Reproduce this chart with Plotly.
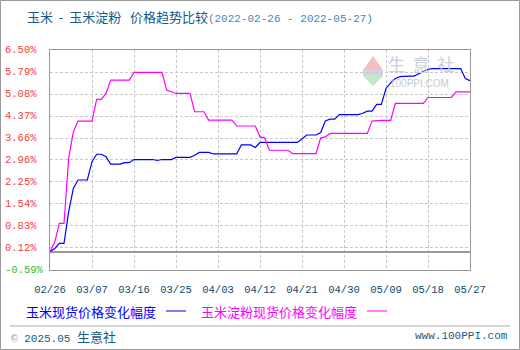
import plotly.graph_objects as go
import pandas as pd

# ---------------- data ----------------
dates = pd.date_range("2022-02-26", "2022-05-27", freq="D")
corn = [0, 0.10, 0.27, 0.27, 1.29, 2.04, 2.31, 2.31, 2.31, 2.90,
        3.14, 3.14, 3.06, 2.82, 2.82, 2.82, 2.87, 2.87, 2.97, 2.97,
        2.97, 2.97, 2.97, 2.94, 2.97, 2.97, 2.97, 3.04, 3.04, 3.04,
        3.04, 3.11, 3.20, 3.20, 3.20, 3.15, 3.15, 3.15, 3.15, 3.15,
        3.15, 3.44, 3.44, 3.44, 3.36, 3.52, 3.52, 3.52, 3.52, 3.52,
        3.52, 3.52, 3.52, 3.52, 3.63, 3.76, 3.76, 3.76, 3.84, 4.21,
        4.27, 4.27, 4.42, 4.42, 4.42, 4.42, 4.42, 4.46, 4.53, 4.53,
        4.75, 4.75, 5.26, 5.44, 5.58, 5.64, 5.66, 5.66, 5.66, 5.73,
        5.82, 5.88, 5.90, 5.90, 5.90, 5.90, 5.90, 5.90, 5.90, 5.58,
        5.51]
starch = [0, 0.30, 0.91, 0.91, 3.01, 3.86, 4.21, 4.21, 4.21, 4.21,
          4.91, 4.91, 5.10, 5.53, 5.53, 5.53, 5.53, 5.53, 5.78, 5.78,
          5.78, 5.78, 5.78, 5.78, 5.78, 5.21, 5.15, 5.10, 5.10, 5.10,
          5.10, 4.51, 4.51, 4.51, 4.24, 4.24, 4.24, 4.24, 4.24, 4.24,
          4.05, 4.05, 4.05, 4.05, 4.05, 3.70, 3.67, 3.27, 3.27, 3.27,
          3.27, 3.27, 3.16, 3.16, 3.16, 3.16, 3.16, 3.16, 3.67, 3.70,
          3.81, 3.81, 3.81, 3.81, 3.81, 3.81, 3.81, 3.81, 3.81, 4.21,
          4.23, 4.23, 4.23, 4.23, 4.78, 4.78, 4.78, 4.78, 4.78, 4.78,
          4.78, 4.97, 4.97, 4.97, 4.97, 4.97, 4.97, 5.15, 5.15, 5.15,
          5.15]
series_names = ["玉米现货价格变化幅度", "玉米淀粉现货价格变化幅度"]
y_ticks = [-0.59, 0.12, 0.83, 1.54, 2.25, 2.96, 3.66, 4.37, 5.08, 5.79, 6.50]
y_tick_labels = ["-0.59%", "0.12%", "0.83%", "1.54%", "2.25%", "2.96%",
                 "3.66%", "4.37%", "5.08%", "5.79%", "6.50%"]
x_ticks = pd.date_range("2022-02-26", "2022-05-27", freq="9D")
x_tick_labels = ["02/26", "03/07", "03/16", "03/25", "04/03", "04/12",
                 "04/21", "04/30", "05/09", "05/18", "05/27"]
title_main = "玉米&nbsp;&nbsp;-&nbsp;&nbsp;玉米淀粉&nbsp;&nbsp;&nbsp;价格趋势比较"
title_dates = "(2022-02-26 - 2022-05-27)"

# ---------------- geometry helpers ----------------
W, H = 520, 350
L, R, T, B = 50, 470, 50, 270
def px(x):
    return (x - L) / (R - L)
def py(y):
    return (B - y) / (B - T)

FONT = "Liberation Mono, Noto Sans CJK SC, monospace"
CJK = "Noto Sans CJK SC, sans-serif"

fig = go.Figure()
fig.add_trace(go.Scatter(x=dates, y=corn, mode="lines", name=series_names[0],
                         line=dict(color="#0000ff", width=1.2)))
fig.add_trace(go.Scatter(x=dates, y=starch, mode="lines", name=series_names[1],
                         line=dict(color="#ff00ff", width=1.2)))

fig.update_layout(
    width=W, height=H,
    margin=dict(l=L, r=W - R, t=T, b=H - B, autoexpand=False),
    paper_bgcolor="white", plot_bgcolor="white",
    showlegend=False,
    font=dict(family=FONT, size=11),
    xaxis=dict(
        type="date", automargin=False,
        range=[dates[0], dates[-1]],
        tickvals=x_ticks, ticktext=x_tick_labels,
        tickfont=dict(family=FONT, size=10.5, color="#0b4a6e"),
        showgrid=True, gridcolor="#c8c8c8", griddash="3px,2px", gridwidth=1,
        showline=True, linecolor="#999999", linewidth=1, mirror=True,
        ticks="", ticklabelstandoff=9, zeroline=False,
    ),
    yaxis=dict(
        automargin=False,
        range=[y_ticks[0], y_ticks[-1]],
        tickvals=y_ticks, showticklabels=False,
        showgrid=True, gridcolor="#c8c8c8", griddash="3px,2px", gridwidth=1,
        showline=True, linecolor="#999999", linewidth=1, mirror=True,
        zeroline=True, zerolinecolor="#999999", zerolinewidth=1.5,
        ticks="",
    ),
)

shapes = []
annotations = []

# y tick labels, left aligned at the chart edge, placed on the y scale
for v, t in zip(y_ticks, y_tick_labels):
    c = "#33bb33" if v < 0 else "#f04040"
    annotations.append(dict(xref="paper", yref="y", x=px(3), y=v,
                            xanchor="left", yanchor="middle", showarrow=False,
                            text=t, font=dict(family=FONT, size=10.5, color=c)))

# title
annotations.append(dict(
    xref="paper", yref="paper", x=px(25), y=py(16), xanchor="left", yanchor="middle",
    showarrow=False,
    text=f"<span style='color:#13598a;font-family:{CJK};font-size:13px'>{title_main}</span>"
         f"<span style='color:#4a86b4'>{title_dates}</span>",
    font=dict(family=FONT, size=11),
))

# watermark logo
shapes.append(dict(type="path", xref="paper", yref="paper",
                   path=f"M {px(363)} {py(70)} L {px(383)} {py(70)} L {px(373)} {py(56)} Z",
                   fillcolor="#f6c0bc", line=dict(width=0), layer="below"))
shapes.append(dict(type="rect", xref="paper", yref="paper",
                   x0=px(363), x1=px(383), y0=py(76), y1=py(70),
                   fillcolor="#d0d4e4", line=dict(width=0), layer="below"))
shapes.append(dict(type="path", xref="paper", yref="paper",
                   path=f"M {px(363)} {py(76)} L {px(383)} {py(76)} L {px(373)} {py(86)} Z",
                   fillcolor="#c4e8c4", line=dict(width=0), layer="below"))
annotations.append(dict(xref="paper", yref="paper", x=px(421), y=py(64),
                        xanchor="center", yanchor="middle", showarrow=False,
                        text="生&nbsp;&nbsp;意&nbsp;&nbsp;社",
                        font=dict(family=CJK, size=17, color="#c8cde0")))
annotations.append(dict(xref="paper", yref="paper", x=px(419), y=py(83),
                        xanchor="center", yanchor="middle", showarrow=False,
                        text="100PPI.COM", font=dict(family="Liberation Sans", size=10, color="#c8cad4")))

# legend (text then line sample)
annotations.append(dict(xref="paper", yref="paper", x=px(24), y=py(311),
                        xanchor="left", yanchor="middle", showarrow=False,
                        text=series_names[0], font=dict(family=CJK, size=13, color="#0000ff")))
shapes.append(dict(type="line", xref="paper", yref="paper",
                   x0=px(166), x1=px(186), y0=py(311), y1=py(311),
                   line=dict(color="#0000ff", width=1)))
annotations.append(dict(xref="paper", yref="paper", x=px(199), y=py(311),
                        xanchor="left", yanchor="middle", showarrow=False,
                        text=series_names[1], font=dict(family=CJK, size=13, color="#ff00ff")))
shapes.append(dict(type="line", xref="paper", yref="paper",
                   x0=px(367), x1=px(387), y0=py(311), y1=py(311),
                   line=dict(color="#ff00ff", width=1)))

# footer
shapes.append(dict(type="line", xref="paper", yref="paper",
                   x0=px(10), x1=px(510), y0=py(326), y1=py(326),
                   line=dict(color="#aaaaaa", width=1)))
annotations.append(dict(xref="paper", yref="paper", x=px(9), y=py(336),
                        xanchor="left", yanchor="middle", showarrow=False,
                        text="<span style='color:#8aa0b4'>©</span> 2025.05 <span style='font-family:Noto Sans CJK SC;font-size:13px'>生意社</span>",
                        font=dict(family=FONT, size=11, color="#1a5a80")))
annotations.append(dict(xref="paper", yref="paper", x=px(510), y=py(336),
                        xanchor="right", yanchor="middle", showarrow=False,
                        text="www.100PPI.com",
                        font=dict(family=FONT, size=11, color="#1a5a80")))

# outer border
shapes.append(dict(type="rect", xref="paper", yref="paper",
                   x0=px(0.5), x1=px(519.5), y0=py(349.5), y1=py(0.5),
                   line=dict(color="#999999", width=1), fillcolor="rgba(0,0,0,0)"))

fig.update_layout(shapes=shapes, annotations=annotations)
fig.write_html("out.html")
